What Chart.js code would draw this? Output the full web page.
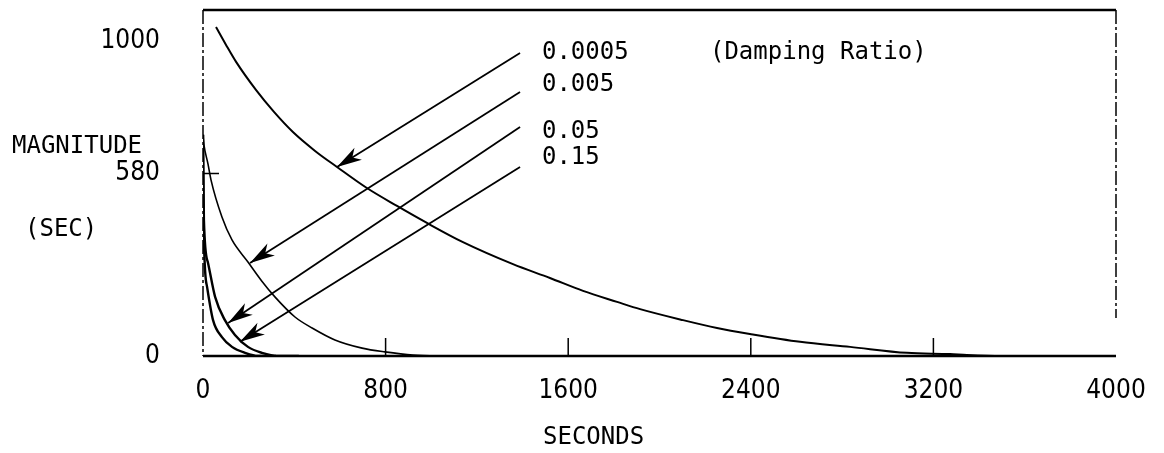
<!DOCTYPE html>
<html>
<head>
<meta charset="utf-8">
<script src="https://cdn.jsdelivr.net/npm/chart.js@4"></script>
<style>
  html, body { margin: 0; padding: 0; background: #fff; }
  #wrap { width: 1164px; height: 453px; }
</style>
</head>
<body>
<div id="wrap"><canvas id="chart" width="1164" height="453"></canvas></div>
<script>
// time axis (seconds) and magnitude (sec), one pair per damping ratio
const tA = [57, 101, 145, 232, 311, 394, 491, 587, 718, 850, 981, 1139, 1358, 1520, 1665, 1814, 1915, 2103, 2252, 2396, 2616, 2835, 3084, 3273, 3347, 3500, 3700];
const magA = [1046, 989, 935, 846, 776, 712, 652, 601, 534, 477, 423, 362, 292, 248, 207, 172, 149, 114, 89, 70, 45, 29, 10, 6, 3, 0, 0];

const tB = [0, 4, 22, 35, 83, 127, 197, 258, 315, 403, 478, 578, 697, 797, 920, 1082];
const magB = [700, 672, 610, 560, 442, 369, 299, 238, 188, 124, 89, 51, 25, 13, 3, 0];

const tC = [0, 4, 22, 53, 96, 140, 197, 258, 329, 420];
const magC = [703, 432, 296, 188, 114, 67, 29, 10, 0, 0];

const tD = [0, 2, 18, 44, 83, 127, 184, 241, 320];
const magD = [703, 432, 219, 114, 60, 29, 10, 0, 0];

const ratios = ['0.0005', '0.005', '0.05', '0.15'];

// leader arrows, in data units (seconds, magnitude)
const arrowTail = [[1389, 963], [1389, 839], [1389, 728], [1389, 601]];
const arrowTip = [[587, 601], [206, 296], [110, 105], [162, 45]];
const labelAt = [[1485, 963], [1485, 862], [1485, 712], [1485, 629]];
const legendNoteAt = [2221, 963];

const xTicks = [0, 800, 1600, 2400, 3200, 4000];
const yTicks = [0, 580, 1000];
const yMarked = [580];

const toPts = (ts, ms) => ts.map((t, i) => ({ x: t, y: ms[i] }));

const MONO = '"DejaVu Sans Mono", monospace';
const LABEL = '"DejaVu Sans Condensed", "DejaVu Sans", sans-serif';

const curveSets = [[tA, magA], [tB, magB], [tC, magC], [tD, magD]];
const widths = [2, 1.6, 2.4, 2.4];

const datasets = curveSets.map(([ts, ms], i) => ({
    label: ratios[i],
    data: toPts(ts, ms),
    borderColor: '#000',
    borderWidth: widths[i],
    pointRadius: 0,
    cubicInterpolationMode: 'monotone',
    fill: false
}));

arrowTail.forEach((tail, i) => {
    datasets.push({
        label: 'arrow ' + ratios[i],
        data: [{ x: tail[0], y: tail[1] }, { x: arrowTip[i][0], y: arrowTip[i][1] }],
        borderColor: '#000',
        borderWidth: 1.8,
        pointRadius: 0,
        tension: 0,
        isArrow: true,
        fill: false
    });
});

const frame = {
    id: 'frame',
    beforeDatasetsDraw(chart) {
        const { ctx, chartArea: a, scales } = chart;
        ctx.save();
        ctx.strokeStyle = '#000';
        // top + bottom, solid
        ctx.lineWidth = 2.5;
        ctx.beginPath();
        ctx.moveTo(a.left, a.top); ctx.lineTo(a.right, a.top);
        ctx.moveTo(a.left, a.bottom); ctx.lineTo(a.right, a.bottom);
        ctx.stroke();
        // sides, dash-dot
        ctx.lineWidth = 1.5;
        ctx.setLineDash([14, 3, 3, 3]);
        ctx.beginPath();
        ctx.moveTo(a.left, a.top); ctx.lineTo(a.left, a.bottom);
        ctx.moveTo(a.right, a.top); ctx.lineTo(a.right, a.bottom - 38);
        ctx.stroke();
        ctx.setLineDash([]);
        // inward tick marks
        ctx.lineWidth = 1.5;
        ctx.beginPath();
        scales.x.ticks.forEach(tk => {
            if (tk.value <= scales.x.min || tk.value >= scales.x.max) return;
            const px = scales.x.getPixelForValue(tk.value);
            ctx.moveTo(px, a.bottom); ctx.lineTo(px, a.bottom - 18);
        });
        yMarked.forEach(v => {
            const py = scales.y.getPixelForValue(v);
            ctx.moveTo(a.left, py); ctx.lineTo(a.left + 16, py);
        });
        ctx.stroke();
        ctx.restore();
    },
    afterDatasetsDraw(chart) {
        const { ctx, scales } = chart;
        ctx.save();
        ctx.fillStyle = '#000';
        chart.data.datasets.forEach((ds, i) => {
            if (!ds.isArrow) return;
            const pts = chart.getDatasetMeta(i).data;
            const p0 = pts[0], p1 = pts[1];
            const ang = Math.atan2(p1.y - p0.y, p1.x - p0.x);
            const len = 25, half = 7;
            ctx.save();
            ctx.translate(p1.x, p1.y);
            ctx.rotate(ang);
            ctx.beginPath();
            ctx.moveTo(0, 0);
            ctx.lineTo(-len, -half);
            ctx.lineTo(-len + 7, 0);
            ctx.lineTo(-len, half);
            ctx.closePath();
            ctx.fill();
            ctx.restore();
        });
        ctx.font = '24px ' + MONO;
        ctx.textAlign = 'left';
        ctx.textBaseline = 'middle';
        labelAt.forEach((p, i) => {
            ctx.fillText(ratios[i], scales.x.getPixelForValue(p[0]), scales.y.getPixelForValue(p[1]));
        });
        ctx.fillText('(Damping Ratio)', scales.x.getPixelForValue(legendNoteAt[0]), scales.y.getPixelForValue(legendNoteAt[1]));
        ctx.restore();
    },
    afterDraw(chart) {
        const { ctx } = chart;
        ctx.save();
        ctx.fillStyle = '#000';
        ctx.font = '24px ' + MONO;
        ctx.textAlign = 'left';
        ctx.textBaseline = 'middle';
        ctx.fillText('MAGNITUDE', 12, 147);
        ctx.fillText('(SEC)', 25, 230);
        ctx.fillText('SECONDS', 543, 438);
        ctx.restore();
    }
};

new Chart(document.getElementById('chart'), {
    type: 'line',
    data: { datasets },
    plugins: [frame],
    options: {
        responsive: false,
        animation: false,
        devicePixelRatio: 1,
        layout: { padding: { left: 0, top: 10, right: 48, bottom: 0 } },
        plugins: { legend: { display: false }, tooltip: { enabled: false } },
        scales: {
            x: {
                type: 'linear',
                min: 0,
                max: 4000,
                afterBuildTicks: s => { s.ticks = xTicks.map(v => ({ value: v })); },
                afterFit: s => { s.height = 97; s.paddingLeft = 0; s.paddingRight = 0; },
                grid: { display: false, drawTicks: false },
                border: { display: false },
                ticks: { color: '#000', font: { family: LABEL, size: 26 }, padding: 20, maxRotation: 0, callback: v => String(v) }
            },
            y: {
                type: 'linear',
                min: 0,
                max: 1100,
                afterBuildTicks: s => { s.ticks = yTicks.map(v => ({ value: v })); },
                afterFit: s => { s.width = 203; s.paddingTop = 0; s.paddingBottom = 0; },
                grid: { display: false, drawTicks: false },
                border: { display: false },
                ticks: { color: '#000', font: { family: LABEL, size: 26 }, padding: 43, callback: v => String(v) }
            }
        }
    }
});
</script>
</body>
</html>
